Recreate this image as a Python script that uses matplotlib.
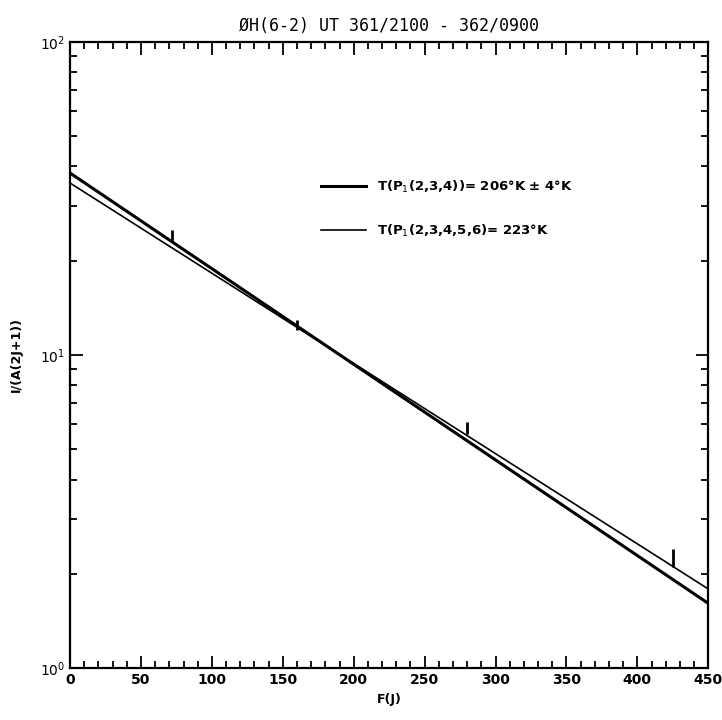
import numpy as np
import matplotlib
matplotlib.use('Agg')
import matplotlib.pyplot as plt
from matplotlib.ticker import MultipleLocator, FixedLocator, FixedFormatter

# fitted lines (end points)
fit_x = [0, 450]
fit_206 = [38.1, 1.61]
fit_223 = [35.4, 1.79]

# measured points
pt_x = [72, 160, 280, 425]
pt_y = [24.0, 12.5, 5.85, 2.25]
pt_err = [1.0, 0.45, 0.25, 0.15]

labels = ['T(P$_1$(2,3,4))= 206°K ± 4°K', 'T(P$_1$(2,3,4,5,6)= 223°K']

plt.rcParams['font.family'] = ['DejaVu Sans']

fig = plt.figure(figsize=(7.22, 7.2), dpi=100)
ax = fig.add_axes([0.097, 0.072, 0.884, 0.870])

# log-linear lines: interpolate in log space between the two end points
xx = np.linspace(fit_x[0], fit_x[1], 50)
y1 = np.exp(np.interp(xx, fit_x, np.log(fit_206)))
y2 = np.exp(np.interp(xx, fit_x, np.log(fit_223)))
ax.plot(xx, y1, color='black', lw=2.2, label=labels[0])
ax.plot(xx, y2, color='black', lw=1.2, label=labels[1])

ax.errorbar(pt_x, pt_y, yerr=pt_err, fmt='none', ecolor='black', elinewidth=2, capsize=0)

ax.set_yscale('log')
ax.set_xlim(0, 450)
ax.set_ylim(1, 100)

ax.xaxis.set_major_locator(MultipleLocator(50))
ax.xaxis.set_minor_locator(MultipleLocator(10))
ax.yaxis.set_major_locator(FixedLocator([1, 10, 100]))
ax.yaxis.set_major_formatter(FixedFormatter(['10$^0$', '10$^1$', '10$^2$']))
ax.tick_params(which='both', direction='in', top=True, right=True, width=1.3)
ax.tick_params(which='major', length=9, labelsize=10)
ax.tick_params(which='minor', length=5)
for lbl in ax.get_xticklabels():
    lbl.set_fontweight('bold')
for s in ax.spines.values():
    s.set_linewidth(1.6)

ax.set_xlabel('F(J)', fontsize=9, fontweight='bold', labelpad=4)
ax.set_ylabel('I/(A(2J+1))', fontsize=9, fontweight='bold', labelpad=12)
ax.set_title('ØH(6-2) UT 361/2100 - 362/0900', fontsize=12, family='DejaVu Sans Mono', pad=8)

ax.legend(loc='center left', bbox_to_anchor=(0.375, 0.733), frameon=False,
          handlelength=3.4, labelspacing=2.1, handletextpad=0.8,
          prop={'size': 9.5, 'weight': 'bold'})

plt.savefig('out.png', dpi=100)
